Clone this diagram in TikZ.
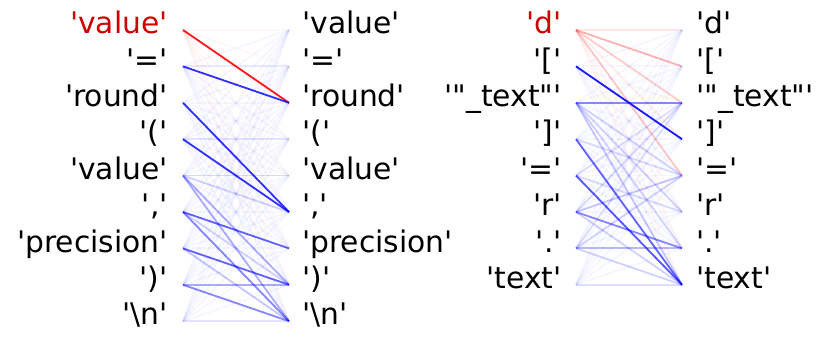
\documentclass[tikz,border=0pt]{standalone}
\usepackage{fontspec}
\setmainfont{DejaVu Sans}[Ligatures=TeXOff]
\usepackage{tikz}
\usetikzlibrary{positioning}
\definecolor{hlred}{RGB}{204,0,0}
\definecolor{attred}{RGB}{255,0,0}
\definecolor{attblue}{RGB}{0,0,255}
\tikzset{
  tokl/.style = {anchor=mid east, inner sep=0pt, font=\fontsize{22.3}{26}\selectfont},
  tokr/.style = {anchor=mid west, inner sep=0pt, font=\fontsize{22.3}{26}\selectfont},
  attb/.style = {draw=attblue, line width=1.35pt},
  attr/.style = {draw=attred, line width=1.35pt}
}

\begin{document}
\begin{tikzpicture}[x=0.75pt, y=-0.75pt]
\useasboundingbox (0,0) rectangle (830,352);

% left panel: value = round(value, precision)
\node[tokl, text=hlred] (al0) at (168,30) {'value'};
\node[tokr] (ar0) at (302,30) {'value'};
\coordinate (pl0) at (183,30);
\coordinate (pr0) at (289,30);
\foreach \t [count=\i] in {'=', 'round', '(', 'value', {','}, 'precision', ')', '\textbackslash n'} {
  \node[tokl] (al\i) at (168,30+36.4*\i) {\t};
  \node[tokr] (ar\i) at (302,30+36.4*\i) {\t};
  \coordinate (pl\i) at (183,30+36.4*\i);
  \coordinate (pr\i) at (289,30+36.4*\i);
}
\foreach \j in {0,...,8}
  \draw[attr, draw opacity=0.03] (pl0) -- (pr\j);
\foreach \i in {1,...,8}
  \foreach \j in {0,...,8}
    \draw[attb, draw opacity=0.035] (pl\i) -- (pr\j);
\draw[attr, draw opacity=0.9] (pl0) -- (pr2);
\foreach \i/\j/\w in {1/2/0.8, 2/5/0.8, 3/5/0.8, 1/1/0.06, 3/3/0.08,
                      4/4/0.12, 4/5/0.15, 4/7/0.3, 4/8/0.3,
                      5/6/0.6, 5/7/0.15, 5/8/0.45, 6/7/0.6, 6/8/0.2,
                      7/7/0.3, 7/8/0.45, 8/8/0.08}
  \draw[attb, draw opacity=\w] (pl\i) -- (pr\j);

% right panel: d["_text"] = r.text
\node[tokl, text=hlred] (bl0) at (562,30) {'d'};
\node[tokr] (br0) at (696,30) {'d'};
\coordinate (ql0) at (576,30);
\coordinate (qr0) at (682,30);
\foreach \t [count=\i] in {'[', '"\_text"', ']', '=', 'r', '.', 'text'} {
  \node[tokl] (bl\i) at (562,30+36.4*\i) {\t};
  \node[tokr] (br\i) at (696,30+36.4*\i) {\t};
  \coordinate (ql\i) at (576,30+36.4*\i);
  \coordinate (qr\i) at (682,30+36.4*\i);
}
\foreach \j/\w in {0/0.1, 1/0.3, 2/0.2, 3/0.07, 4/0.22, 5/0.04, 6/0.04, 7/0.04}
  \draw[attr, draw opacity=\w] (ql0) -- (qr\j);
\foreach \i in {1,...,7}
  \foreach \j in {0,...,7}
    \draw[attb, draw opacity=0.035] (ql\i) -- (qr\j);
\foreach \i/\j/\w in {1/3/0.9, 2/2/0.45, 2/4/0.15, 2/5/0.15, 2/6/0.15, 2/7/0.2,
                      3/7/0.6, 3/4/0.12, 4/7/0.65, 4/5/0.12, 4/2/0.1,
                      5/6/0.45, 5/4/0.2, 5/2/0.12, 5/7/0.15,
                      6/6/0.25, 6/4/0.15, 6/7/0.15, 6/2/0.1, 7/7/0.1}
  \draw[attb, draw opacity=\w] (ql\i) -- (qr\j);
\end{tikzpicture}
\end{document}
